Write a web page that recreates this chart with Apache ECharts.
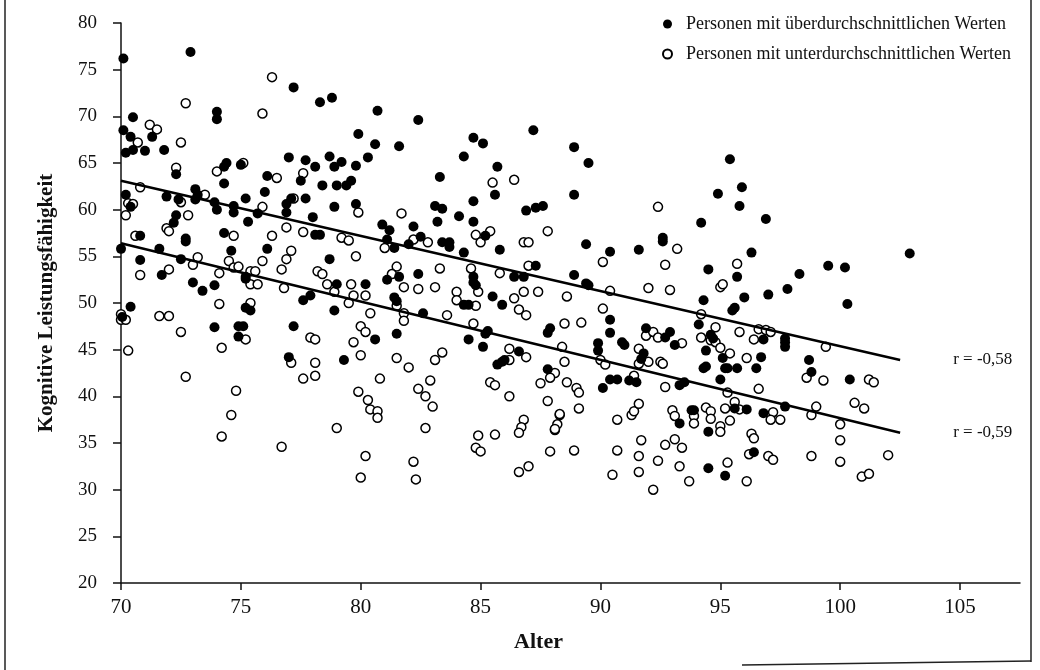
<!DOCTYPE html>
<html>
<head>
<meta charset="utf-8">
<script src="https://cdn.jsdelivr.net/npm/echarts@6/dist/echarts.min.js"></script>
<style>
    html, body { margin: 0; padding: 0; background: #fff; }
    #main { width: 1040px; height: 670px; }
</style>
</head>
<body>
<div id="main"></div>
<script>
// Alter / Kognitive Leistungsfähigkeit
var aboveAverage = [
    [70.1,76.2],[72.9,76.9],[77.2,73.1],[78.3,71.5],[78.8,72.0],
    [74.0,70.5],[74.0,69.7],[70.5,69.9],[70.1,68.5],[70.4,67.8],[71.3,67.8],
    [70.2,66.1],[70.5,66.4],[71.0,66.3],[71.8,66.4],
    [77.0,65.6],[77.7,65.3],[78.7,65.7],[78.1,64.6],[78.9,64.6],
    [72.3,63.8],[74.3,64.6],[74.4,65.0],[75.0,64.8],[74.3,62.8],[77.5,63.1],[76.1,63.6],[78.4,62.6],[78.9,60.3],[76.0,61.9],
    [73.1,62.2],[73.2,61.6],[71.9,61.4],[72.4,61.1],[73.1,61.1],[73.9,60.8],[74.0,60.0],[74.7,60.4],[74.7,59.7],[75.2,61.2],[75.3,58.7],[75.7,59.6],
    [70.2,61.6],[70.4,60.3],
    [76.9,60.6],[77.1,61.2],[77.7,61.2],[76.9,59.7],[78.0,59.2],
    [72.3,59.4],[72.2,58.6],[72.7,56.9],[72.7,56.6],[70.8,57.2],[74.3,57.5],[78.1,57.3],[78.3,57.3],
    [70.0,55.8],[71.6,55.8],[70.8,54.6],[72.5,54.7],[74.6,55.6],[76.1,55.8],
    [71.7,53.0],[75.2,52.8],[75.2,52.6],[78.7,54.7],
    [73.0,52.2],[73.4,51.3],[73.9,51.9],[77.9,50.8],[77.6,50.3],[78.9,49.2],[70.4,49.6],[75.2,49.5],[75.4,49.2],
    [70.05,48.5],[73.9,47.4],[74.9,47.5],[75.1,47.5],[74.9,46.4],[77.2,47.5],[77.0,44.2],
    [80.7,70.6],[82.4,69.6],[79.9,68.1],[80.6,67.0],[81.6,66.8],[80.3,65.6],[79.2,65.1],[79.8,64.7],[79.0,62.6],[79.4,62.6],[79.6,63.1],[79.8,60.6],
    [83.3,63.5],[84.3,65.7],[84.7,67.7],[85.1,67.1],[87.2,68.5],[85.7,64.6],[85.6,61.6],[84.7,60.9],[83.1,60.4],[83.4,60.1],[84.1,59.3],[83.2,58.7],[84.7,58.7],
    [86.9,59.9],[87.3,60.2],[87.6,60.4],[80.9,58.4],[81.2,57.8],[82.2,58.2],
    [81.1,56.8],[81.4,55.9],[82.5,57.1],[82.0,56.3],[83.4,56.5],[83.7,56.5],[83.7,56.0],[85.2,57.2],[84.3,55.4],[85.8,55.7],
    [84.7,52.8],[84.7,52.2],[84.8,51.9],[82.4,53.1],[81.6,52.8],[81.1,52.5],[86.4,52.8],[86.8,52.8],[87.3,54.0],
    [85.5,50.7],[85.9,49.8],[84.3,49.8],[84.5,49.8],[81.4,50.6],[81.5,50.2],[79.0,52.0],[80.2,52.0],
    [82.6,48.9],[85.3,47.0],[85.2,46.7],[80.6,46.1],[81.5,46.7],[79.3,43.9],[84.5,46.1],[85.1,45.3],[86.6,44.8],[85.7,43.4],[85.9,43.7],[86.0,43.9],[87.8,46.8],[87.9,47.3],[87.8,42.9],
    [88.9,66.7],[89.5,65.0],[88.9,61.6],[89.4,56.3],[90.4,55.5],[88.9,53.0],[89.4,52.1],[89.5,51.9],[91.6,55.7],[92.6,57.0],[92.6,56.6],[94.2,58.6],[95.4,65.4],[94.9,61.7],[95.9,62.4],[95.8,60.4],[96.9,59.0],[96.3,55.4],[95.7,52.8],[94.5,53.6],[96.0,50.6],[97.0,50.9],[94.3,50.3],[95.5,49.2],[95.6,49.5],
    [97.8,51.5],[98.3,53.1],[99.5,54.0],[100.2,53.8],[100.3,49.9],[102.9,55.3],
    [90.4,48.2],[90.4,46.8],[89.9,45.7],[89.9,44.9],[90.1,40.9],[90.4,41.8],[90.7,41.8],[90.9,45.8],[91.0,45.5],[91.2,41.7],[91.5,41.5],[91.8,44.6],[91.7,44.0],[91.9,47.3],[92.7,46.3],[92.9,46.9],[93.1,45.5],[93.3,41.2],[93.5,41.5],[93.3,37.1],[93.8,38.5],[93.9,38.5],[94.1,47.7],[94.6,46.6],[94.7,46.2],[94.4,44.9],[95.1,44.1],[94.3,43.0],[94.4,43.2],[95.2,43.0],[95.3,43.0],[95.7,43.0],[95.0,41.8],[94.5,36.2],[95.6,38.7],[96.1,38.6],[96.4,34.0],[94.5,32.3],[95.2,31.5],[96.8,46.1],[96.7,44.2],[96.5,43.0],[96.8,38.2],
    [97.7,46.2],[97.7,45.8],[97.7,45.3],[98.7,43.9],[98.8,42.6],[100.4,41.8],[97.7,38.9]
];

var belowAverage = [
    [76.3,74.2],[72.7,71.4],[75.9,70.3],[71.2,69.1],[71.5,68.6],[70.7,67.2],[72.5,67.2],
    [72.3,64.5],[74.0,64.1],[75.1,65.0],[77.6,63.9],[76.5,63.4],[75.9,60.3],[73.5,61.6],[72.5,60.8],
    [70.8,62.4],[70.3,60.7],[70.5,60.6],[70.2,59.4],[77.2,61.2],[71.9,58.0],[72.0,57.7],[72.8,59.4],
    [70.6,57.2],[74.7,57.2],[76.3,57.2],[76.9,58.1],[77.6,57.6],
    [73.2,54.9],[73.0,54.1],[77.1,55.6],[76.9,54.7],[75.9,54.5],[74.5,54.5],[74.7,53.8],[74.9,53.9],[74.1,53.2],[72.0,53.6],[70.8,53.0],[75.4,53.4],[75.6,53.4],[76.7,53.6],[78.2,53.4],[78.4,53.1],[78.6,52.0],
    [75.4,52.0],[75.7,52.0],[76.8,51.6],[74.1,49.9],[75.4,50.0],
    [70.0,48.8],[70.0,48.2],[70.2,48.2],[71.6,48.6],[72.0,48.6],[72.5,46.9],[70.3,44.9],[72.7,42.1],[75.2,46.1],[74.2,45.2],[74.8,40.6],[74.6,38.0],[74.2,35.7],[77.9,46.3],[78.1,46.1],[77.1,43.6],[78.1,43.6],[77.6,41.9],[78.1,42.2],[76.7,34.6],[79.0,36.6],
    [79.9,59.7],[85.5,62.9],[86.4,63.2],[81.7,59.6],[87.8,57.7],[79.2,57.0],[79.5,56.7],[79.8,55.0],[81.0,55.9],[82.2,56.8],[82.8,56.5],[84.8,57.3],[85.4,57.7],[85.0,56.5],[86.8,56.5],[87.0,56.5],[84.6,53.7],[83.3,53.7],[81.5,53.9],[81.3,53.1],[81.8,51.7],[82.4,51.5],[83.1,51.7],[84.0,51.2],[84.0,50.3],[84.9,51.2],[85.8,53.2],[87.0,54.0],[86.8,51.2],[87.4,51.2],[86.4,50.5],[86.6,49.3],[84.8,49.7],[81.5,49.7],[79.6,52.0],[80.2,50.8],[79.7,50.8],[78.9,51.2],[79.5,50.0],
    [80.4,48.9],[81.8,48.9],[81.8,48.1],[83.6,48.7],[84.7,47.8],[86.9,48.7],[80.0,47.5],[80.2,46.9],[79.7,45.8],[80.0,44.4],[81.5,44.1],[82.0,43.1],[80.8,41.9],[79.9,40.5],[80.3,39.6],[80.4,38.6],[80.7,38.4],[80.7,37.7],[82.4,40.8],[82.7,40.0],[83.0,38.9],[82.9,41.7],[83.1,43.9],[83.4,44.7],[82.7,36.6],[80.2,33.6],[80.0,31.3],[82.2,33.0],[82.3,31.1],[86.2,45.1],[86.9,44.2],[86.2,43.9],[88.1,42.5],[87.9,42.0],[87.5,41.4],[85.4,41.5],[85.6,41.2],[86.2,40.0],[87.8,39.5],[88.3,38.0],[88.1,36.4],[86.8,37.5],[86.7,36.7],[86.6,36.1],[84.9,35.8],[85.6,35.9],[84.8,34.5],[85.0,34.1],[87.9,34.1],[86.6,31.9],[87.0,32.5],
    [90.1,54.4],[88.6,50.7],[90.4,51.3],[90.1,49.4],[92.4,60.3],[93.2,55.8],[92.7,54.1],[92.0,51.6],[92.9,51.4],[95.7,54.2],[95.0,51.7],[95.1,52.0],
    [94.2,48.8],[88.5,47.8],[89.2,47.9],[88.4,45.3],[88.5,43.7],[88.6,41.5],[89.0,40.9],[89.1,40.4],[89.1,38.7],[88.3,38.1],[88.2,37.0],[88.1,36.5],[88.9,34.2],[90.0,43.9],[90.2,43.4],[90.7,37.5],[90.5,31.6],[90.7,34.2],[91.3,38.0],[91.4,38.4],[91.6,39.2],[91.7,35.3],[91.6,33.6],[91.6,31.9],[92.2,30.0],[92.4,33.1],[92.7,41.0],[92.7,34.8],[93.0,38.5],[93.1,37.9],[93.1,35.4],[93.4,34.5],[93.3,32.5],[93.7,30.9],[91.6,45.1],[91.6,43.5],[91.4,42.2],[92.0,43.7],[92.5,43.7],[92.6,43.5],[91.9,46.5],[92.2,46.9],[92.4,46.3],[93.4,45.7],[93.9,37.9],[93.9,37.1],[94.2,46.3],[94.8,47.4],[94.6,46.0],[94.8,45.8],[95.0,45.2],[95.4,44.6],[95.3,40.4],[94.4,38.8],[94.6,38.4],[95.0,36.8],[95.0,36.2],[95.2,38.7],[95.6,39.4],[95.8,38.6],[95.4,37.4],[94.6,37.6],[96.3,36.0],[96.4,35.5],[96.2,33.8],[95.3,32.9],[96.1,30.9],[95.8,46.9],[96.4,46.1],[96.1,44.1],[96.6,40.8],[96.6,47.2],[96.9,47.1],[97.1,46.9],[97.0,33.6],[97.2,33.2],
    [99.4,45.3],[98.6,42.0],[99.3,41.7],[101.2,41.8],[101.4,41.5],[97.2,38.3],[97.1,37.5],[97.5,37.5],[99.0,38.9],[98.8,38.0],[100.0,37.0],[100.0,35.3],[100.6,39.3],[101.0,38.7],[98.8,33.6],[100.0,33.0],[100.9,31.4],[101.2,31.7],[102.0,33.7]
];

// Regressionsgeraden (Anfang / Ende)
var upperLine = [[70, 63.1], [102.5, 43.9]];
var lowerLine = [[70, 56.4], [102.5, 36.1]];
var xTicks = [70, 75, 80, 85, 90, 95, 100, 105];
var legendNames = ["Personen mit überdurchschnittlichen Werten", "Personen mit unterdurchschnittlichen Werten"];
var rLabels = ["r = -0,58", "r = -0,59"];

var serif = "Liberation Serif";
var chart = echarts.init(document.getElementById('main'));

chart.setOption({
    animation: false,
    backgroundColor: "#fff",
    grid: {left: 121, right: 20, top: 23, bottom: 87},
    legend: {
        data: legendNames,
        orient: "vertical",
        left: 657,
        top: 9,
        itemWidth: 9,
        itemHeight: 9,
        itemGap: 10,
        textStyle: {fontFamily: serif, fontSize: 18, color: "#111", lineHeight: 20, padding: [0, 0, 0, 9]}
    },
    xAxis: {
        type: "value",
        min: 70,
        max: 107.5,
        name: "Alter",
        nameLocation: "middle",
        nameGap: 48,
        nameTextStyle: {fontFamily: serif, fontSize: 22, fontWeight: "bold", color: "#111", padding: [0, 64, 0, 0]},
        axisLine: {lineStyle: {color: "#111", width: 1.5}},
        axisTick: {length: 7, customValues: xTicks, lineStyle: {color: "#111", width: 1.5}},
        axisLabel: {customValues: xTicks, margin: 14, fontFamily: serif, fontSize: 21, color: "#111"},
        splitLine: {show: false}
    },
    yAxis: {
        type: "value",
        min: 20,
        max: 80,
        interval: 5,
        name: "Kognitive Leistungsfähigkeit",
        nameLocation: "middle",
        nameGap: 64,
        nameTextStyle: {fontFamily: serif, fontSize: 21, fontWeight: "bold", color: "#111"},
        axisLine: {lineStyle: {color: "#111", width: 1.5}},
        axisTick: {length: 8, lineStyle: {color: "#111", width: 1.5}},
        axisLabel: {margin: 24, fontFamily: serif, fontSize: 19, color: "#111"},
        splitLine: {show: false}
    },
    series: [
        {
            name: legendNames[0],
            type: "scatter",
            symbol: "circle",
            symbolSize: 10,
            itemStyle: {color: "#000", opacity: 1},
            data: aboveAverage,
            z: 3
        },
        {
            name: legendNames[1],
            type: "scatter",
            symbol: "circle",
            symbolSize: 9,
            itemStyle: {color: "#fff", borderColor: "#000", borderWidth: 1.5, opacity: 1},
            data: belowAverage,
            z: 2
        },
        {
            type: "line",
            data: upperLine,
            symbol: "none",
            silent: true,
            lineStyle: {color: "#000", width: 2.5},
            endLabel: {show: true, formatter: rLabels[0], distance: 53, fontFamily: serif, fontSize: 17, color: "#111"},
            z: 4
        },
        {
            type: "line",
            data: lowerLine,
            symbol: "none",
            silent: true,
            lineStyle: {color: "#000", width: 2.5},
            endLabel: {show: true, formatter: rLabels[1], distance: 53, fontFamily: serif, fontSize: 17, color: "#111"},
            z: 4
        }
    ],
    // Rand des gescannten Kastens
    graphic: [
        {type: "line", shape: {x1: 1031, y1: 0, x2: 1031, y2: 662}, style: {stroke: "#222", lineWidth: 1.5}},
        {type: "line", shape: {x1: 742, y1: 665, x2: 1031, y2: 661}, style: {stroke: "#222", lineWidth: 1.5}},
        {type: "line", shape: {x1: 5, y1: 0, x2: 5, y2: 670}, style: {stroke: "#222", lineWidth: 1.5}}
    ]
});
</script>
</body>
</html>
